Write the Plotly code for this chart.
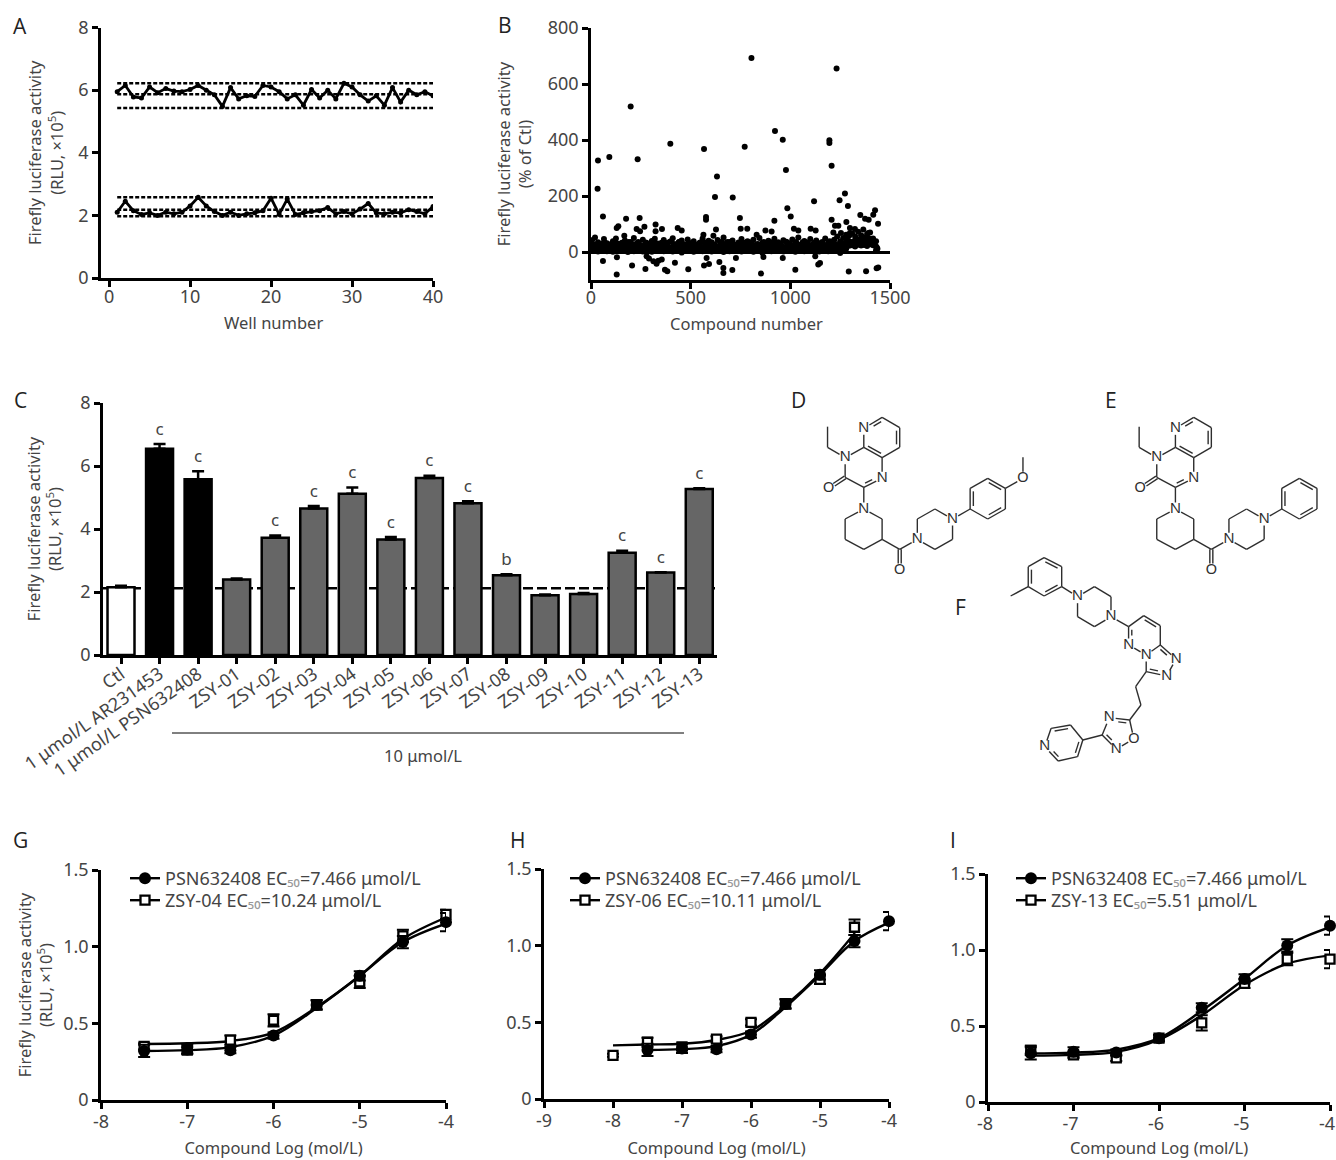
import plotly.graph_objects as go

W, H = 1336, 1160
FONT = "Noto Sans"
INK = "#444444"

# ---------- Panel A ----------
well_number = list(range(1, 41))
high_signal = [5.95,6.15,5.78,5.75,6.10,5.92,6.05,5.97,5.95,6.02,6.15,6.00,5.85,5.48,6.08,5.72,5.82,5.80,6.15,6.10,
               5.95,5.72,5.85,5.52,6.02,5.75,6.00,5.72,6.22,6.10,5.85,5.65,5.82,5.52,6.08,5.62,6.00,5.85,5.95,5.82]
low_signal = [2.10,2.45,2.15,2.03,2.08,2.00,2.10,2.05,2.10,2.30,2.58,2.30,2.12,2.00,2.10,2.00,2.05,2.08,2.15,2.55,
              2.03,2.52,2.03,2.08,2.12,2.15,2.25,2.05,2.12,2.05,2.20,2.38,2.08,2.05,2.10,2.08,2.18,2.12,2.05,2.28]
a_limits = [6.22, 5.87, 5.43, 2.58, 2.18, 1.97]

# ---------- Panel B ----------
hits_x = [805,1232,199,923,962,1196,1196,398,567,771,35,92,234,632,978,1207,33,622,711,985,1119,1274,1247,1289,
          60,176,244,577,577,747,1002,920,1351,1375,1393,1425,1416,1207,1440,1281,137,129,324,268,246,229,324,356,
          435,455,627,751,784,875,906,1018,1040,1102,1127,1224,1241,1254,1216,1299,1324,1366,1391,1299,167,564,614,831,
          129,853,1293,1380,664,664,709,383,371,488,273,1025,1441,1433,1140,1149,206,567,592,329,338,313,355,60,421,644,
          130,279,291,580,727,865,962,1125]
hits_y = [693,655,520,432,401,399,389,387,368,376,327,339,331,270,293,308,226,196,195,156,181,209,185,164,
          127,119,121,125,115,121,127,112,132,119,115,149,133,115,101,107,92,86,98,90,74,82,74,82,
          86,77,80,83,83,77,73,83,77,83,77,94,94,68,70,86,82,80,68,68,58,62,58,62,
          -80,-77,-70,-69,-75,-57,-64,-69,-63,-62,-61,-63,-55,-58,-45,-39,-48,-48,-43,-42,-31,-33,-27,-32,-38,-36,
          -19,-15,-23,-21,-21,-18,-21,-15]
band_low = [5,8,2,6,9,3,7,1,5,8,4,6,0,7,3,9,5,2,8,6,1,7,4,9,3,6,8,2,5,7,-2,6,9,4,1,8,5,3,7,6,
            2,9,4,8,0,6,3,7,5,9,2,6,8,4,1,7,5,-3,8,6,3,9,4,7,2,5,8,6,1,7,9,3,5,8,4,6,2,7,10,3,
            6,8,4,-4,7,12,22,24,20,26,23,25,21,28,24,6]
band_mid = [18,14,20,16,12,22,15,19,13,21,17,14,23,16,12,20,18,15,22,13,19,17,21,14,16,23,12,18,20,15,
            22,13,17,19,14,21,16,12,24,18,15,20,13,22,17,19,14,16,21,12,23,18,15,20,16,13,22,19,14,17,
            21,12,18,24,15,20,16,13,22,17,19,14,21,15,18,23,12,16,20,14,19,17,22,13,18,34,38,36,42,35,40,37,43,39,36,20]
band_high = [42,52,35,28,46,31,26,38,48,29,33,41,27,36,50,30,25,44,34,28,39,47,30,26,43,32,37,49,28,35,
             41,27,45,31,38,26,33,48,29,40,35,27,43,30,52,28,36,41,26,34,46,29,38,31,44,27,50,33,28,40,
             35,47,30,26,42,37,29,45,32,52,28,39,34,46,27,41,30,36,48,31,26,44,55,38,50,62,58,66,55,72,60,52,64,70,48,38]
band_fill_a = [10,24,16,30,6,27,12,33,9,22,14,31,7,25,11,36,4,19,29,10,34,13,26,8,21,15,38,6,23,12,
               28,17,5,32,10,24,13,35,8,20,27,11,16,37,6,22,31,9,14,26,18,34,5,24,12,29,7,36,20,10,
               15,30,8,23,13,33,19,6,27,11,35,16,9,25,14,32,7,22,12,38,10,28,15,5,30,40,33,29,36,45,31,38,48,34,30,12]
band_fill_b = [28,6,22,12,34,8,25,15,31,4,20,10,36,13,27,7,24,16,32,9,26,5,18,33,11,23,14,29,8,37,
               6,21,30,12,25,9,34,16,4,28,11,23,7,30,15,36,8,20,26,5,33,13,19,35,10,24,6,16,31,27,
               9,22,35,14,5,18,29,12,36,8,24,15,28,6,33,11,20,30,7,26,34,13,9,21,25,44,27,31,48,29,34,41,30,46,25,16]

# ---------- Panel C ----------
c_labels = ["Ctl","1 μmol/L AR231453","1 μmol/L PSN632408","ZSY-01","ZSY-02","ZSY-03","ZSY-04","ZSY-05",
            "ZSY-06","ZSY-07","ZSY-08","ZSY-09","ZSY-10","ZSY-11","ZSY-12","ZSY-13"]
c_values = [2.15,6.55,5.58,2.40,3.72,4.65,5.12,3.67,5.62,4.82,2.53,1.90,1.94,3.25,2.62,5.27]
c_errors = [0.05,0.15,0.25,0.03,0.07,0.08,0.20,0.08,0.07,0.06,0.03,0.02,0.03,0.06,0.01,0.02]
c_marks = ["","c","c","","c","c","c","c","c","c","b","","","c","c","c"]
c_colors = ["#ffffff","#000000","#000000"] + ["#666666"] * 13
c_baseline = 2.12

# ---------- Panels G, H, I ----------
log_dose = [-7.5,-7,-6.5,-6,-5.5,-5,-4.5,-4]
psn_y = [0.32,0.33,0.325,0.42,0.62,0.81,1.03,1.16]
psn_err = [0.04,0.03,0.02,0.02,0.03,0.03,0.04,0.06]
psn_fit = [0.32,0.325,0.345,0.42,0.60,0.81,1.03,1.15]
zsy04_y = [0.35,0.325,0.39,0.52,0.62,0.77,1.07,1.21]
zsy04_err = [0.02,0.02,0.03,0.04,0.03,0.04,0.04,0.03]
zsy04_fit = [0.365,0.37,0.385,0.44,0.605,0.81,1.05,1.19]
zsy06_x = [-8,-7.5,-7,-6.5,-6,-5.5,-5,-4.5]
zsy06_y = [0.285,0.37,0.34,0.39,0.50,0.62,0.78,1.12]
zsy06_err = [0.01,0.03,0.02,0.02,0.02,0.03,0.03,0.05]
zsy06_fit = [0.35,0.355,0.36,0.385,0.445,0.61,0.82,1.08]
zsy13_y = [0.34,0.31,0.29,0.42,0.52,0.78,0.94,0.94]
zsy13_err = [0.03,0.02,0.02,0.02,0.05,0.03,0.04,0.06]
zsy13_fit = [0.305,0.31,0.33,0.41,0.57,0.77,0.91,0.965]
sub50 = "EC<span style='color:#999999'>₅₀</span>"
psn_name = f"PSN632408 {sub50}=7.466 μmol/L"

# ---------- Structures D, E, F (drawn as diagrams) ----------
core_bonds = [
 (238,130,290,97,1),(290,97,340,128,0),(340,128,340,187,1),(340,187,290,218,0),(290,218,238,187,1),(238,187,238,130,0),
 (238,187,185,218,0),(185,218,185,277,0),(185,277,238,307,0),(238,307,290,280,-1),(290,280,290,218,0),
 (185,277,138,310,2),(185,218,135,187,0),(135,187,135,125,0),(238,307,238,372,0),
 (238,372,290,402,0),(290,402,290,463,0),(290,463,238,493,0),(238,493,185,463,0),(185,463,185,402,0),(185,402,238,372,0),
 (290,463,340,493,0),(340,493,340,555,2),(340,493,390,463,0),
 (390,463,390,402,0),(390,402,440,372,0),(440,372,490,402,0),(490,402,490,463,0),(490,463,440,493,0),(440,493,390,463,0),
 (490,402,540,372,0),(540,372,540,310,1),(540,310,590,280,0),(590,280,640,310,1),(640,310,640,372,0),(640,372,590,402,1),(590,402,540,372,0)]
core_atoms = [("N",238,130),("N",185,218),("O",138,310),("N",290,280),("N",238,372),("O",340,555),("N",390,463),("N",490,402)]
methoxy_bonds = [(640,310,690,280,0),(690,280,690,217,0)]
methoxy_atoms = [("O",690,280)]
f_bonds = [
 (655,633,705,605,0),(705,605,705,545,1),(705,545,750,518,0),(750,518,800,545,1),(800,545,800,605,0),(800,605,750,633,1),(750,633,705,605,0),
 (800,605,845,635,0),(845,635,893,605,0),(893,605,940,635,0),(940,635,940,695,0),(940,695,893,725,0),(893,725,845,695,0),(845,695,845,635,0),
 (940,695,990,725,0),(990,725,1033,692,0),(1033,692,1080,722,1),(1080,722,1080,780,0),(1080,780,1040,810,0),(1040,810,990,780,0),(990,780,990,725,1),
 (1080,780,1125,822,1),(1125,822,1098,873,0),(1098,873,1040,860,1),(1040,860,1040,810,0),
 (1040,860,1010,905,0),(1010,905,1025,960,0),(1025,960,993,1005,0),
 (993,1005,1005,1062,0),(1005,1062,955,1092,0),(955,1092,915,1050,1),(915,1050,935,998,0),(935,998,993,1005,1),
 (915,1050,860,1065,0),(860,1065,845,1115,1),(845,1115,790,1128,0),(790,1128,752,1085,1),(752,1085,770,1030,0),(770,1030,825,1020,1),(825,1020,860,1065,0)]
f_atoms = [("N",845,635),("N",940,695),("N",990,780),("N",1040,810),("N",1125,822),("N",1098,873),("N",935,998),("O",1005,1062),("N",955,1092),("N",752,1085)]


def sx(v):
    return 780 + v / 2.84


def sy(v):
    return 385 + v / 3.0


def molecule(bonds, atoms, shift=0):
    xs, ys = [], []
    places = {(a[1], a[2]) for a in atoms}
    for x1, y1, x2, y2, kind in bonds:
        ax, ay, bx, by = sx(x1 + shift), sy(y1), sx(x2 + shift), sy(y2)
        dx, dy = bx - ax, by - ay
        n = (dx * dx + dy * dy) ** 0.5
        ux, uy = dx / n, dy / n
        t1 = 6.5 if (x1, y1) in places else 0
        t2 = 6.5 if (x2, y2) in places else 0
        ax, ay = ax + ux * t1, ay + uy * t1
        bx, by = bx - ux * t2, by - uy * t2
        if kind == 2:
            for o in (-1.5, 1.5):
                xs += [ax - uy * o, bx - uy * o, None]
                ys += [ay + ux * o, by + ux * o, None]
            continue
        xs += [ax, bx, None]
        ys += [ay, by, None]
        if kind:
            o = 3.2 * kind
            xs += [ax + ux * 3 - uy * o, bx - ux * 3 - uy * o, None]
            ys += [ay + uy * 3 + ux * o, by - uy * 3 + ux * o, None]
    return go.Scatter(x=xs, y=ys, mode="lines", line=dict(color="#2e2e2e", width=1.4),
                      xaxis="x7", yaxis="y7", showlegend=False, hoverinfo="skip", cliponaxis=False)


def atom_text(atoms, shift=0):
    return go.Scatter(x=[sx(a[1] + shift) for a in atoms], y=[sy(a[2]) for a in atoms],
                      text=[a[0] for a in atoms], mode="text", textposition="middle center",
                      textfont=dict(family=FONT, size=15, color="#2e2e2e"),
                      xaxis="x7", yaxis="y7", showlegend=False, hoverinfo="skip", cliponaxis=False)


def xdom(a, b):
    return [a / W, b / W]


def ydom(top, bottom):
    return [1 - bottom / H, 1 - top / H]


AXIS = dict(showline=True, linecolor="black", linewidth=2.5, ticks="outside", ticklen=6, tickwidth=2.5,
            tickcolor="black", showgrid=False, zeroline=False, tickfont=dict(family=FONT, size=18, color=INK),
            automargin=False, mirror=False, ticklabeloverflow="allow")
TITLE = dict(family=FONT, size=16.5, color=INK)


def xa(dom, rng, ticks, anchor, title=None, standoff=7, **kw):
    d = dict(AXIS, domain=xdom(*dom), range=rng, tickvals=ticks, ticktext=[str(t) for t in ticks], anchor=anchor)
    if title:
        d["title"] = dict(text=title, font=TITLE, standoff=standoff)
    d.update(kw)
    return d


def ya(dom, rng, ticks, anchor, labels=None, title=None, standoff=12, **kw):
    d = dict(AXIS, domain=ydom(*dom), range=rng, tickvals=ticks, anchor=anchor)
    if labels:
        d["ticktext"] = labels
    if title:
        d["title"] = dict(text=title, font=TITLE, standoff=standoff)
    d.update(kw)
    return d


fig = go.Figure()

# A
for series in (high_signal, low_signal):
    fig.add_trace(go.Scatter(x=well_number, y=series, mode="lines+markers", line=dict(color="black", width=2.8),
                             marker=dict(color="black", size=5), xaxis="x", yaxis="y", showlegend=False))
for lim in a_limits:
    fig.add_trace(go.Scatter(x=[1, 40], y=[lim, lim], mode="lines", line=dict(color="black", width=2.5, dash="4px,2px"),
                             xaxis="x", yaxis="y", showlegend=False))

# B
fig.add_trace(go.Scatter(x=hits_x, y=hits_y, mode="markers", marker=dict(color="black", size=6),
                         xaxis="x2", yaxis="y2", showlegend=False, cliponaxis=False))
for start, band in ((5, band_low), (5, band_mid), (5, band_high), (12, band_fill_a), (9, band_fill_b)):
    fig.add_trace(go.Scatter(x=[start + 15 * i for i in range(len(band))], y=band, mode="markers",
                             marker=dict(color="black", size=6), xaxis="x2", yaxis="y2", showlegend=False))

# C
c_pos = list(range(len(c_labels)))
fig.add_trace(go.Bar(x=c_pos, y=c_values, width=0.7, marker=dict(color=c_colors, line=dict(color="black", width=2.5)),
                     error_y=dict(type="data", array=c_errors, arrayminus=[0] * len(c_errors), symmetric=False,
                                  color="black", thickness=2.5, width=6),
                     xaxis="x3", yaxis="y3", showlegend=False))
marked = [i for i, m in enumerate(c_marks) if m]
fig.add_trace(go.Scatter(x=marked, y=[c_values[i] + c_errors[i] + 0.16 for i in marked], text=[c_marks[i] for i in marked],
                         mode="text", textposition="top center", textfont=dict(family=FONT, size=17, color=INK),
                         xaxis="x3", yaxis="y3", showlegend=False, hoverinfo="skip"))


def dose_panel(xax, yax, leg_a, leg_b, zx, zy, zerr, zfit, zname):
    fig.add_trace(go.Scatter(x=log_dose, y=psn_fit, mode="lines", line=dict(color="black", width=2.4, shape="spline"),
                             xaxis=xax, yaxis=yax, showlegend=False))
    fig.add_trace(go.Scatter(x=zx, y=zfit, mode="lines", line=dict(color="black", width=2.4, shape="spline"),
                             xaxis=xax, yaxis=yax, showlegend=False))
    fig.add_trace(go.Scatter(x=zx, y=zy, mode="markers",
                             marker=dict(symbol="square", color="white", size=9, line=dict(color="black", width=2.3)),
                             error_y=dict(type="data", array=zerr, color="black", thickness=2, width=6),
                             xaxis=xax, yaxis=yax, showlegend=False, cliponaxis=False))
    fig.add_trace(go.Scatter(x=log_dose, y=psn_y, mode="markers", marker=dict(color="black", size=12),
                             error_y=dict(type="data", array=psn_err, color="black", thickness=2, width=6),
                             xaxis=xax, yaxis=yax, showlegend=False, cliponaxis=False))
    fig.add_trace(go.Scatter(x=[None], y=[None], mode="lines+markers", name=psn_name, legend=leg_a,
                             line=dict(color="black", width=2.4), marker=dict(color="black", size=12),
                             xaxis=xax, yaxis=yax))
    fig.add_trace(go.Scatter(x=[None], y=[None], mode="lines+markers", name=zname, legend=leg_b,
                             line=dict(color="black", width=2.4),
                             marker=dict(symbol="square", color="white", size=9, line=dict(color="black", width=2.3)),
                             xaxis=xax, yaxis=yax))


dose_panel("x4", "y4", "legend", "legend2", log_dose, zsy04_y, zsy04_err, zsy04_fit, f"ZSY-04 {sub50}=10.24 μmol/L")
dose_panel("x5", "y5", "legend3", "legend4", zsy06_x, zsy06_y, zsy06_err, zsy06_fit, f"ZSY-06 {sub50}=10.11 μmol/L")
dose_panel("x6", "y6", "legend5", "legend6", log_dose, zsy13_y, zsy13_err, zsy13_fit, f"ZSY-13 {sub50}=5.51 μmol/L")

# D, E, F
fig.add_trace(molecule(core_bonds + methoxy_bonds, core_atoms + methoxy_atoms))
fig.add_trace(atom_text(core_atoms + methoxy_atoms))
fig.add_trace(molecule(core_bonds, core_atoms, shift=885))
fig.add_trace(atom_text(core_atoms, shift=885))
fig.add_trace(molecule(f_bonds, f_atoms))
fig.add_trace(atom_text(f_atoms))

RLU = "Firefly luciferase activity<br>(RLU, ×10<sup>5</sup>)"
dose_ticks = [0, 0.5, 1.0, 1.5]
dose_labels = ["0", "0.5", "1.0", "1.5"]


def legend_at(x, y):
    return dict(x=x / W, y=1 - y / H, xanchor="left", yanchor="top", bgcolor="rgba(0,0,0,0)", borderwidth=0,
                font=dict(family=FONT, size=18, color=INK), itemwidth=30, tracegroupgap=0)


annotations = [dict(text=t, x=x / W, y=1 - y / H, xref="paper", yref="paper", showarrow=False, xanchor="center",
                    yanchor="middle", font=dict(family="Open Sans", size=21, color="#222222"))
               for t, x, y in [("A", 20, 26), ("B", 505, 25), ("C", 20, 400), ("D", 798, 400), ("E", 1111, 400),
                               ("F", 960, 607), ("G", 20, 840), ("H", 517, 840), ("I", 953, 840)]]
annotations += [dict(text=t, x=x / W, y=1 - y / H, xref="paper", yref="paper", showarrow=False, xanchor="center",
                     yanchor="middle", font=dict(family=FONT, size=16.5, color=INK))
                for t, x, y in [("10 μmol/L", 423, 755), ("Well number", 273, 322), ("Compound number", 746, 323)]]

fig.update_layout(
    width=W, height=H, margin=dict(l=0, r=0, t=0, b=0), paper_bgcolor="white", plot_bgcolor="rgba(0,0,0,0)",
    font=dict(family=FONT, color=INK), hovermode=False,
    xaxis=xa((101, 433), [-1, 40], [0, 10, 20, 30, 40], "y", ticklabelstandoff=-5),
    yaxis=ya((27.5, 278), [0, 8], [0, 2, 4, 6, 8], "x", title=RLU, standoff=11.5),
    xaxis2=xa((591, 890), [0, 1500], [0, 500, 1000, 1500], "y2", ticklabelstandoff=-6),
    yaxis2=ya((28, 280), [-100, 800], [0, 200, 400, 600, 800], "x2", title="Firefly luciferase activity<br>(% of Ctl)",
              standoff=12, zeroline=True, zerolinecolor="black", zerolinewidth=2.5),
    xaxis3=xa((103, 717), [-0.467, 15.46], c_pos, "y3", ticktext=c_labels, tickangle=-35, ticklabelstandoff=-7,
              tickfont=dict(family=FONT, size=18, color=INK)),
    yaxis3=ya((403, 655), [0, 8], [0, 2, 4, 6, 8], "x3", title=RLU, standoff=15),
    xaxis4=xa((101, 446), [-8, -4], [-8, -7, -6, -5, -4], "y4", "Compound Log (mol/L)", standoff=11, ticklabelstandoff=-2),
    yaxis4=ya((870, 1100), [0, 1.5], dose_ticks, "x4", labels=dose_labels, title=RLU, standoff=7),
    xaxis5=xa((544, 889), [-9, -4], [-9, -8, -7, -6, -5, -4], "y5", "Compound Log (mol/L)", standoff=12, ticklabelstandoff=-2),
    yaxis5=ya((869, 1099), [0, 1.5], dose_ticks, "x5", labels=dose_labels),
    xaxis6=xa((988, 1330), [-8, -4], [-8, -7, -6, -5, -4], "y6", "Compound Log (mol/L)", standoff=9, ticklabelstandoff=-2,
              ticklabelshift=-3),
    yaxis6=ya((874, 1102), [0, 1.5], dose_ticks, "x6", labels=dose_labels),
    xaxis7=dict(domain=[0, 1], range=[0, W], visible=False, anchor="y7", fixedrange=True),
    yaxis7=dict(domain=[0, 1], range=[H, 0], visible=False, anchor="x7", fixedrange=True),
    legend=legend_at(125, 860), legend2=legend_at(125, 882), legend3=legend_at(565, 860), legend4=legend_at(565, 882),
    legend5=legend_at(1011, 860), legend6=legend_at(1011, 882),
    shapes=[
        dict(type="line", xref="x3", yref="y3", x0=-0.467, x1=15.46, y0=c_baseline, y1=c_baseline, layer="below",
             line=dict(color="black", width=2.5, dash="10px,4px")),
        dict(type="line", xref="paper", yref="paper", x0=172 / W, x1=684 / W, y0=1 - 733 / H, y1=1 - 733 / H,
             line=dict(color="black", width=1)),
    ],
    annotations=annotations,
)

fig.write_html("out.html", post_script="document.body.style.margin='0';document.body.style.overflow='hidden';",
               config={"displayModeBar": False})
